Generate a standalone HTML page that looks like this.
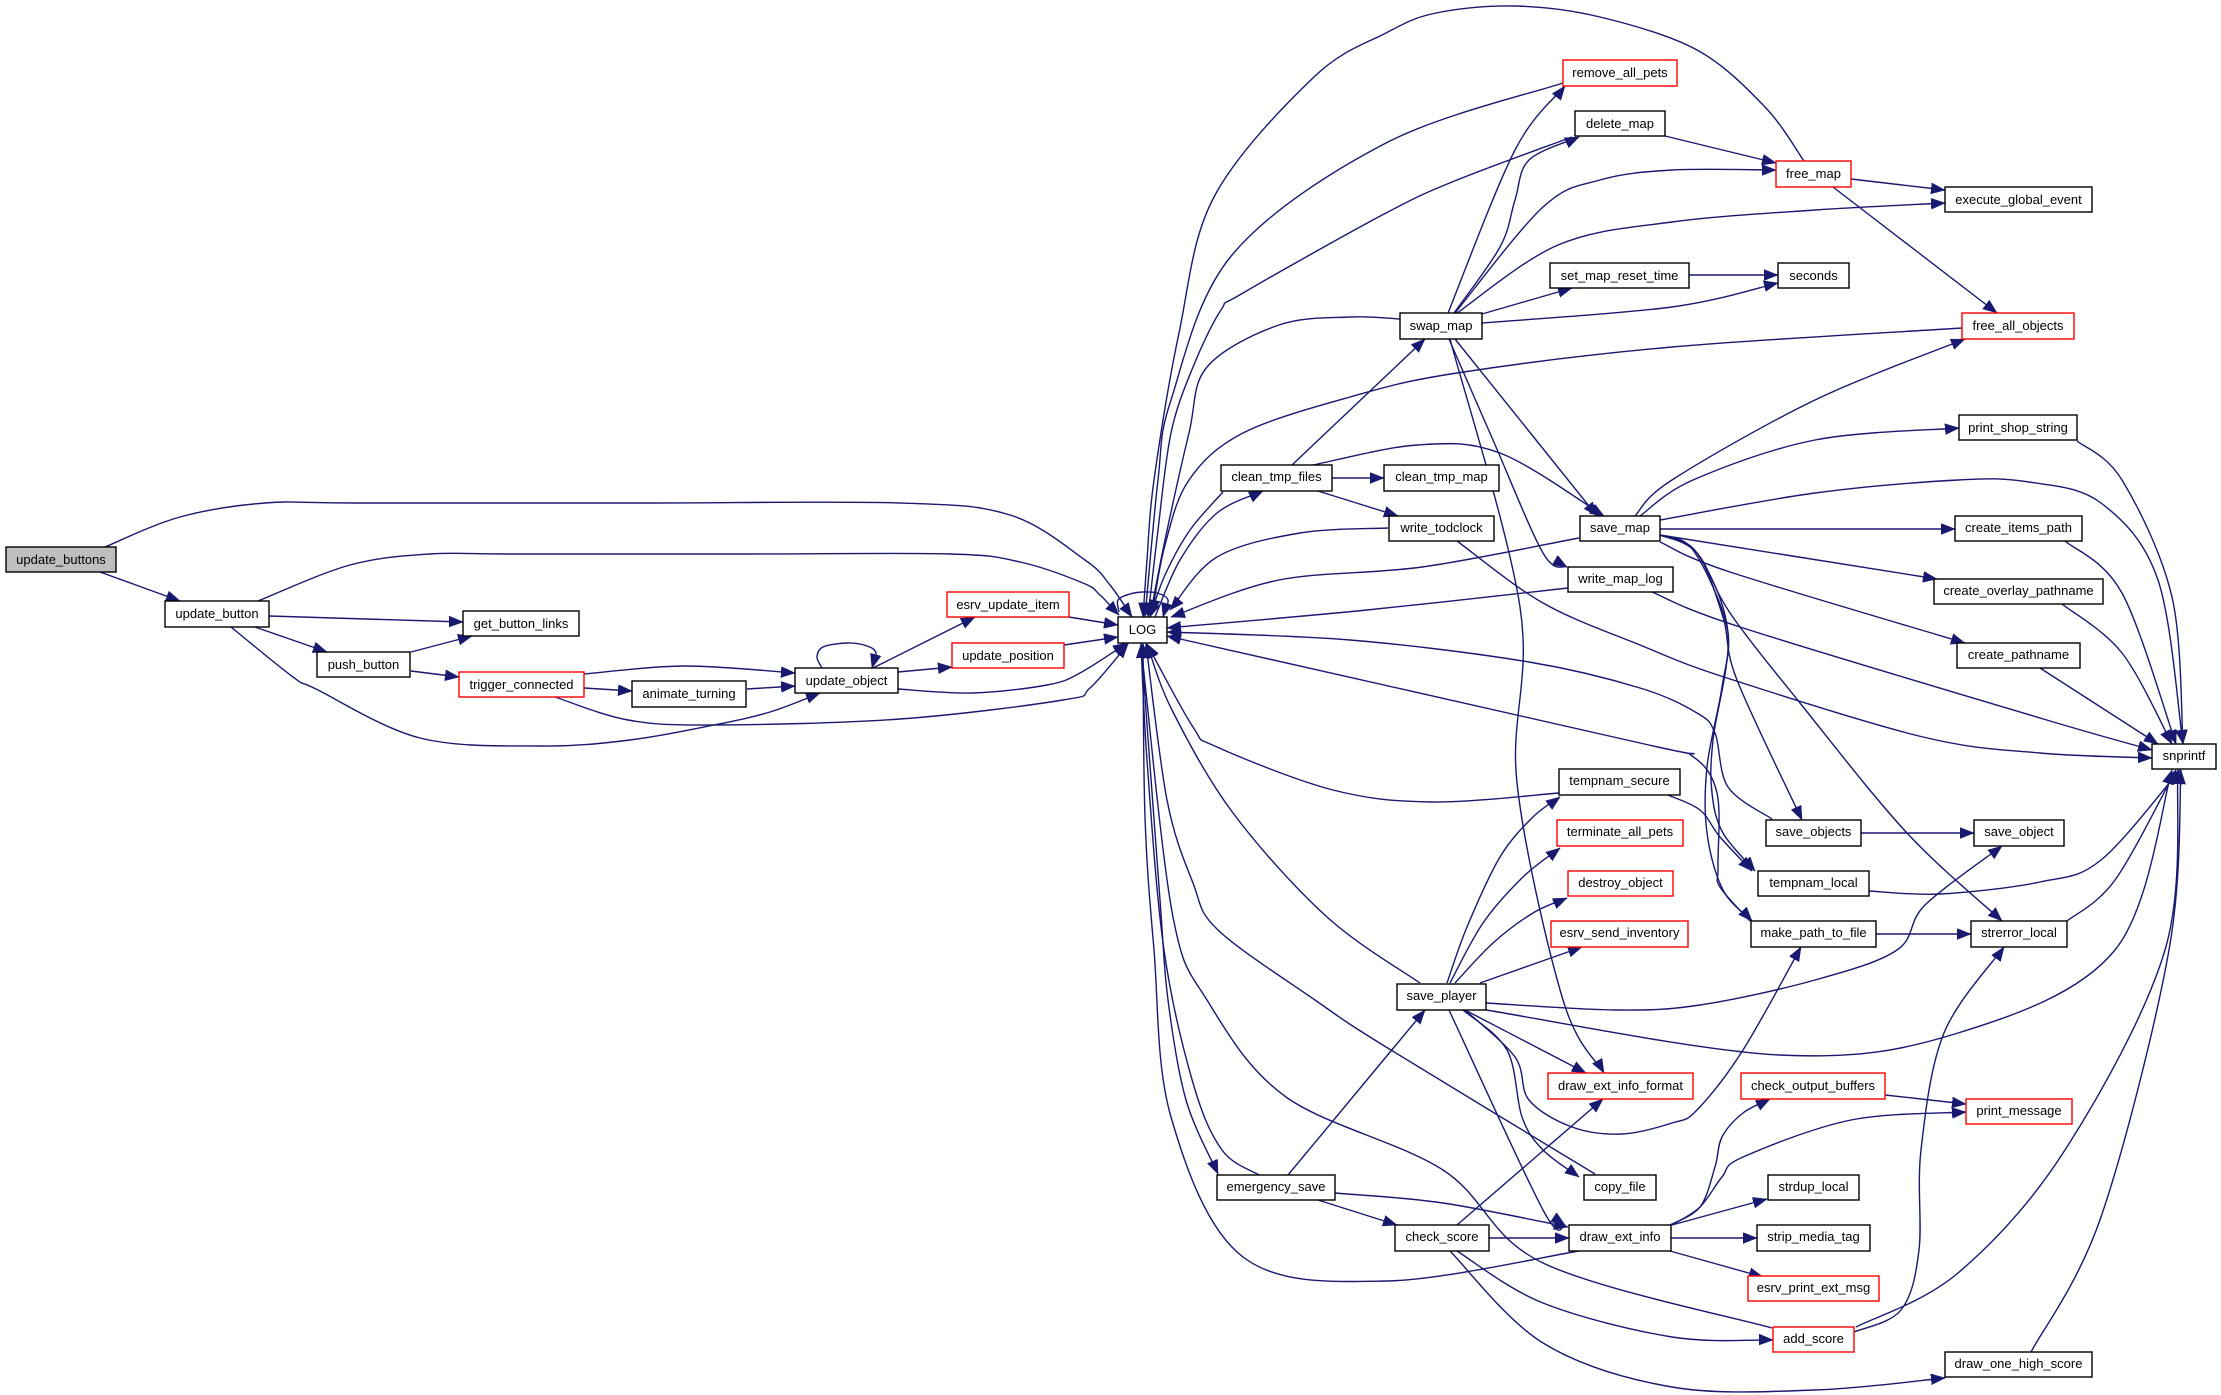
<!DOCTYPE html>
<html><head><meta charset="utf-8"><style>
html,body{margin:0;padding:0;background:#fff;width:2221px;height:1395px;overflow:hidden}
svg{display:block}
.e{fill:none;stroke:#191970;stroke-width:1.4}
rect{fill:#fff;stroke:#000;stroke-width:1.4}
rect.r{stroke:#f00}
rect.g{fill:#bfbfbf}
text{font-family:"Liberation Sans",sans-serif;font-size:13px;fill:#000;text-anchor:middle}
</style></head><body>
<svg id="s" xmlns="http://www.w3.org/2000/svg" width="2221" height="1395" viewBox="0 0 2221 1395">
<defs><marker id="a" markerUnits="userSpaceOnUse" markerWidth="16" markerHeight="12" refX="14" refY="5.5" orient="auto"><path d="M0,0L14,5.5L0,11Z" fill="#191970" stroke="#191970" stroke-width=".5"/></marker></defs>
<g id="edges"></g>
<rect class="g" x="6" y="547" width="110" height="25"/><text x="61" y="564">update_buttons</text>
<rect x="165" y="601" width="104" height="26"/><text x="217" y="618">update_button</text>
<rect x="463" y="611" width="116" height="25"/><text x="521" y="628">get_button_links</text>
<rect x="317" y="652" width="93" height="25"/><text x="363.5" y="669">push_button</text>
<rect class="r" x="459" y="672" width="125" height="25"/><text x="521.5" y="689">trigger_connected</text>
<rect x="632" y="681" width="114" height="26"/><text x="689" y="698">animate_turning</text>
<rect x="795" y="668" width="103" height="25"/><text x="846.5" y="685">update_object</text>
<rect class="r" x="947" y="592" width="122" height="25"/><text x="1008" y="609">esrv_update_item</text>
<rect class="r" x="952" y="643" width="112" height="25"/><text x="1008" y="660">update_position</text>
<rect x="1118" y="617" width="49" height="26"/><text x="1142.5" y="634">LOG</text>
<rect class="r" x="1563" y="60" width="114" height="26"/><text x="1620" y="77">remove_all_pets</text>
<rect x="1575" y="111" width="90" height="25"/><text x="1620" y="128">delete_map</text>
<rect class="r" x="1776" y="161" width="75" height="26"/><text x="1813.5" y="178">free_map</text>
<rect x="1945" y="187" width="147" height="25"/><text x="2018.5" y="204">execute_global_event</text>
<rect x="1550" y="263" width="139" height="25"/><text x="1619.5" y="280">set_map_reset_time</text>
<rect x="1778" y="263" width="71" height="25"/><text x="1813.5" y="280">seconds</text>
<rect x="1400" y="313" width="82" height="26"/><text x="1441" y="330">swap_map</text>
<rect class="r" x="1962" y="313" width="112" height="26"/><text x="2018" y="330">free_all_objects</text>
<rect x="1959" y="415" width="118" height="25"/><text x="2018" y="432">print_shop_string</text>
<rect x="1221" y="465" width="111" height="26"/><text x="1276.5" y="481">clean_tmp_files</text>
<rect x="1384" y="465" width="115" height="26"/><text x="1441.5" y="481">clean_tmp_map</text>
<rect x="1389" y="516" width="105" height="25"/><text x="1441.5" y="532">write_todclock</text>
<rect x="1580" y="516" width="80" height="25"/><text x="1620" y="532">save_map</text>
<rect x="1955" y="516" width="127" height="25"/><text x="2018.5" y="532">create_items_path</text>
<rect x="1568" y="567" width="105" height="25"/><text x="1620.5" y="583">write_map_log</text>
<rect x="1934" y="579" width="169" height="25"/><text x="2018.5" y="595">create_overlay_pathname</text>
<rect x="1957" y="643" width="123" height="25"/><text x="2018.5" y="659">create_pathname</text>
<rect x="2152" y="744" width="64" height="25"/><text x="2184" y="760">snprintf</text>
<rect x="1559" y="769" width="121" height="26"/><text x="1619.5" y="785">tempnam_secure</text>
<rect class="r" x="1557" y="820" width="126" height="26"/><text x="1620" y="836">terminate_all_pets</text>
<rect x="1766" y="820" width="95" height="26"/><text x="1813.5" y="836">save_objects</text>
<rect x="1974" y="820" width="90" height="26"/><text x="2019" y="836">save_object</text>
<rect class="r" x="1568" y="871" width="105" height="25"/><text x="1620.5" y="887">destroy_object</text>
<rect x="1758" y="871" width="111" height="25"/><text x="1813.5" y="887">tempnam_local</text>
<rect class="r" x="1551" y="921" width="137" height="26"/><text x="1619.5" y="937">esrv_send_inventory</text>
<rect x="1751" y="921" width="125" height="26"/><text x="1813.5" y="937">make_path_to_file</text>
<rect x="1971" y="921" width="96" height="26"/><text x="2019" y="937">strerror_local</text>
<rect x="1397" y="984" width="89" height="26"/><text x="1441.5" y="1000">save_player</text>
<rect class="r" x="1548" y="1073" width="145" height="26"/><text x="1620.5" y="1090">draw_ext_info_format</text>
<rect class="r" x="1741" y="1073" width="144" height="26"/><text x="1813" y="1090">check_output_buffers</text>
<rect class="r" x="1966" y="1099" width="106" height="25"/><text x="2019" y="1115">print_message</text>
<rect x="1217" y="1175" width="118" height="25"/><text x="1276" y="1191">emergency_save</text>
<rect x="1584" y="1175" width="72" height="25"/><text x="1620" y="1191">copy_file</text>
<rect x="1768" y="1175" width="91" height="25"/><text x="1813.5" y="1191">strdup_local</text>
<rect x="1395" y="1225" width="94" height="26"/><text x="1442" y="1241">check_score</text>
<rect x="1569" y="1225" width="102" height="26"/><text x="1620" y="1241">draw_ext_info</text>
<rect x="1757" y="1225" width="113" height="26"/><text x="1813.5" y="1241">strip_media_tag</text>
<rect class="r" x="1748" y="1276" width="131" height="25"/><text x="1813.5" y="1292">esrv_print_ext_msg</text>
<rect class="r" x="1773" y="1327" width="81" height="25"/><text x="1813.5" y="1343">add_score</text>
<rect x="1945" y="1352" width="147" height="25"/><text x="2018.5" y="1368">draw_one_high_score</text>
</svg>
<script>
var E=[
[105,547,180,517,265,503,357,503,640,503,900,503,1010,515,1085,560,1110,585,1132,617],
[258,601,350,565,430,554,510,554,750,554,950,554,1020,562,1083,583,1100,595,1119,615],
[269,616,463,622],[100,572,180,601],[255,627,327,652],
[231,627,293,677,316,689,420,738,541,746,630,740,714,725,770,712,820,693],
[411,652,472,636],[411,671,459,677],
[584,674,684,666,795,673],[584,688,632,691],[747,689,795,686],
[555,697,628,720,714,725,900,719,1063,700,1090,688,1128,644],
[898,689,973,693,1047,685,1080,673,1127,643],
[822,668,817,657,823,647,847,643,867,646,876,653,872,668],
[873,668,975,617],[898,672,952,667],[1069,617,1118,625],[1064,645,1118,637],
[1119,612,1118,600,1130,594,1143,592,1157,593,1168,600,1163,617],
[1804,161,1765,107,1697,50,1600,17,1515,6,1436,13,1386,33,1314,77,1214,197,1179,333,1154,480,1147,560,1143,617],
[1563,83,1386,143,1232,255,1171,400,1158,480,1145,617],
[1572,137,1457,180,1386,213,1243,293,1221,310,1193,367,1171,433,1158,530,1148,617],
[1400,319,1350,317,1279,325,1207,367,1189,433,1165,540,1150,617],
[1962,328,1672,347,1457,373,1350,397,1243,433,1189,480,1165,545,1152,614],
[1223,492,1190,530,1165,575,1150,617],
[1155,617,1180,560,1217,513,1263,491],
[1388,528,1300,533,1217,557,1170,610],
[1579,538,1422,567,1279,580,1171,617],
[1568,588,1367,610,1167,628],
[1772,819,1728,787,1715,733,1697,713,1640,688,1529,662,1350,640,1167,632],
[1750,921,1720,887,1718,867,1717,793,1692,756,1640,743,1167,636],
[1660,535,1693,550,1727,627,1722,687,1707,767,1707,833,1723,890,1752,921],
[1660,535,1697,553,1728,633,1713,740,1712,793,1723,833,1755,871],
[1668,795,1700,810,1720,837,1752,871],
[1660,535,1697,553,1723,617,1737,680,1802,820],
[1660,535,1697,553,1730,613,1800,703,1907,833,2002,921],
[1660,535,1937,579],[1660,542,1730,572,1965,643],[1660,529,1955,529],
[1660,520,1815,493,1958,480,2029,482,2101,503,2158,580,2183,744],
[2065,541,2122,593,2176,744],[2062,604,2122,653,2172,744],[2040,668,2158,744],
[2077,441,2122,480,2172,597,2183,744],
[1457,541,1543,603,1640,645,1727,678,1923,737,2040,753,2152,758],
[1652,592,1740,627,2040,718,2152,750],
[1851,179,1945,190],[1833,187,1997,313],[1665,136,1776,163],
[1448,313,1515,150,1565,86],
[1454,313,1500,247,1515,200,1529,160,1579,137],
[1455,313,1543,207,1600,180,1672,170,1776,170],
[1457,313,1558,245,1672,222,1815,210,1945,203],
[1482,314,1572,288],[1482,323,1672,307,1778,283],[1689,275,1778,275],
[1292,465,1425,339],[1332,478,1384,478],[1318,491,1398,516],
[1313,465,1417,445,1500,453,1604,516],
[1455,339,1597,516],
[1449,339,1493,440,1543,553,1567,567],
[1450,339,1520,607,1517,783,1563,1000,1604,1073],
[1635,516,1672,480,1815,400,1965,339],
[1640,516,1693,480,1815,440,1959,428],
[1861,833,1974,833],
[1869,891,1940,894,2040,882,2101,860,2180,770],
[1876,934,1971,934],
[1559,793,1433,802,1333,790,1217,747,1193,727,1147,644],
[1420,983,1327,917,1233,813,1172,710,1147,644],
[1595,1174,1386,1047,1315,1000,1218,930,1193,883,1167,800,1146,644],
[1772,1328,1543,1263,1443,1170,1286,1097,1207,1000,1173,917,1145,683,1143,644],
[1579,1251,1386,1281,1243,1257,1171,1117,1154,950,1145,817,1143,644],
[1259,1175,1222,1150,1193,1083,1164,950,1147,760,1141,644],
[1141,643,1160,900,1168,1000,1186,1100,1218,1174],
[1447,983,1467,927,1500,857,1533,817,1560,797],
[1450,983,1483,923,1523,877,1560,848],
[1455,983,1493,943,1533,913,1567,898],
[1480,983,1582,947],
[1465,1010,1586,1073],
[1449,1010,1543,1210,1565,1225],
[1463,1010,1507,1050,1522,1117,1543,1150,1579,1177],
[1465,1010,1515,1057,1529,1100,1572,1127,1622,1134,1672,1123,1697,1110,1743,1050,1801,947],
[1486,1003,1615,1010,1700,1005,1815,980,1897,950,1925,905,2002,846],
[1486,1010,1779,1055,1958,1033,2115,950,2172,770],
[2067,921,2115,880,2176,770],
[1854,1332,1901,1310,1919,1250,1921,1150,1944,1033,2004,947],
[1856,1327,1958,1273,2065,1150,2165,950,2178,770],
[2031,1352,2101,1217,2169,950,2181,770],
[1288,1175,1425,1010],
[1335,1193,1443,1203,1568,1227],
[1318,1200,1397,1225],[1489,1238,1569,1238],[1457,1225,1603,1099],
[1457,1251,1543,1303,1672,1337,1773,1340],
[1450,1251,1543,1343,1672,1387,1815,1390,1945,1378],
[1670,1225,1700,1207,1715,1167,1722,1137,1743,1113,1770,1099],
[1672,1225,1700,1207,1722,1177,1743,1157,1851,1120,1966,1112],
[1672,1225,1767,1199],[1671,1238,1757,1238],[1670,1251,1763,1277],[1885,1095,1966,1104]
];
var g=document.getElementById('edges'),NS='http://www.w3.org/2000/svg';
E.forEach(function(p){
 var d='M'+p[0]+','+p[1],n=p.length/2;
 function P(i){i=Math.max(0,Math.min(n-1,i));return[p[2*i],p[2*i+1]];}
 for(var i=0;i<n-1;i++){
  var a=P(i-1),b=P(i),c=P(i+1),e=P(i+2);
  d+='C'+(b[0]+(c[0]-a[0])/6).toFixed(1)+','+(b[1]+(c[1]-a[1])/6).toFixed(1)+' '+(c[0]-(e[0]-b[0])/6).toFixed(1)+','+(c[1]-(e[1]-b[1])/6).toFixed(1)+' '+c[0]+','+c[1];
 }
 var t=document.createElementNS(NS,'path');
 t.setAttribute('d',d);t.setAttribute('class','e');t.setAttribute('marker-end','url(#a)');
 g.appendChild(t);
});
</script>
</body></html>
